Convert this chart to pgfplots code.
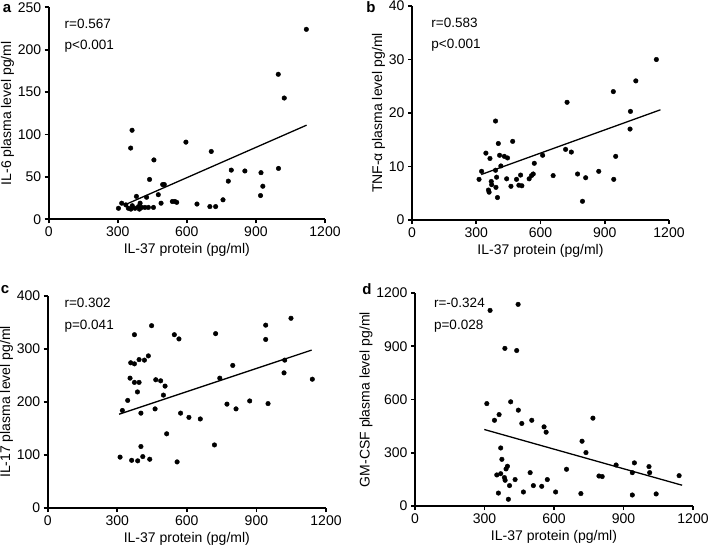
\documentclass[border=0pt]{standalone}
\usepackage{fontspec}
\setmainfont{Liberation Sans}
\usepackage{pgfplots}
\pgfplotsset{compat=1.18}
\pgfplotsset{
 panel/.style={
  scale only axis,
  anchor=south west,
  axis x line=bottom, axis y line=left,
  axis line style={-, line width=1.7pt},
  tick align=outside,
  major tick length=4pt,
  every tick/.style={line width=1.7pt, black},
  xmin=0, xmax=1200, xtick={0,300,600,900,1200},
  ymin=0,
  tick label style={font=\fontsize{14}{15}\selectfont},
  label style={font=\fontsize{14}{16}\selectfont},
  ylabel shift=-3pt,
  xlabel={IL-37 protein (pg/ml)},
  /pgf/number format/assume math mode=true,
  /pgf/number format/set thousands separator={},
  clip=false,
  scaled ticks=false,
  enlargelimits=false,
 },
 dots/.style={only marks, mark=*, mark size=2.3pt, black},
 regline/.style={black, line width=1.3pt, no marks},
}
\tikzset{ann/.style={anchor=west, font=\fontsize{13.5}{15}\selectfont}}
\begin{document}
\begin{tikzpicture}[x=1pt,y=1pt]
\path[use as bounding box] (0,0) rectangle (708,547);
% panel a
\begin{axis}[panel, at={(48.7pt,327.7pt)}, width=276.3pt, height=212pt,
  ymax=250, ytick={0,50,100,150,200,250}, ylabel={IL-6 plasma level pg/ml}]
\addplot[dots] table {
x y
1119 224
997 171
1023 143
362 105
356 84
596 91
706 80
457 70
793 58
852 57
922 55
998 60
780 45
438 47
495 41
502 41
930 39
920 28
476 29
381 27
425 26
757 23
537 21
548 21
556 20
488 19
644 18
317 19
700 15
725 15
303 13
346 13
357 12
375 13
390 15
394 12
404 14
418 14
433 14
455 14
335 17
363 16
397 19
};
\addplot[regline] coordinates {(330,17) (1120,111)};
\node[ann] at (rel axis cs:0.045,0.921) {r=0.567};
\node[ann] at (rel axis cs:0.045,0.816) {p<0.001};
\end{axis}
% panel b
\begin{axis}[panel, at={(412pt,327pt)}, width=257pt, height=214pt,
  ymax=40, ytick={0,10,20,30,40}, ylabel={TNF-α plasma level pg/ml}]
\addplot[dots] table {
x y
1141 30
1045 26
940 24
724 22
1020 20.3
1018 17
951 11.9
717 13.2
744 12.7
610 12.1
571 10.6
659 8.3
773 8.6
811 7.9
872 9.1
942 7.6
796 3.5
390 18.5
403 14.3
470 14.7
345 12.5
364 11.5
409 12.1
431 11.9
446 11.6
415 10.1
325 9.1
390 9.3
313 7.6
370 7.2
372 6.6
395 8.0
357 5.6
360 5.2
392 6.1
399 4.2
442 7.7
462 6.3
488 7.6
499 6.5
513 6.4
507 8.4
547 7.7
558 8.3
566 8.6
};
\addplot[regline] coordinates {(323,8.5) (1160,20.6)};
\node[ann] at (rel axis cs:0.062,0.919) {r=0.583};
\node[ann] at (rel axis cs:0.062,0.816) {p<0.001};
\end{axis}
% panel c
\begin{axis}[panel, at={(47.7pt,39pt)}, width=278.3pt, height=212pt,
  ymax=400, ytick={0,100,200,300,400}, ylabel={IL-17 plasma level pg/ml}]
\addplot[dots] table {
x y
448 344
374 327
546 327
566 319
724 329
358 274
374 272
394 280
417 279
434 287
355 245
374 237
394 237
466 242
487 240
506 230
387 219
345 203
499 213
322 184
402 179
463 187
573 179
609 171
658 168
513 140
402 116
719 119
312 96
362 90
388 89
410 97
440 92
558 87
742 245
798 269
773 196
812 187
871 202
940 345
940 318
950 197
1049 358
1022 279
1019 255
1141 243
};
\addplot[regline] coordinates {(308,177) (1138,298)};
\node[ann] at (rel axis cs:0.048,0.967) {r=0.302};
\node[ann] at (rel axis cs:0.048,0.857) {p=0.041};
\end{axis}
% panel d
\begin{axis}[panel, at={(415pt,41pt)}, width=278pt, height=213pt,
  ymax=1200, ytick={0,300,600,900,1200}, ylabel={GM-CSF plasma level pg/ml}]
\addplot[dots] table {
x y
310 577
413 587
363 515
343 483
446 540
461 465
504 483
557 446
566 416
721 365
738 301
370 327
375 263
399 224
393 209
353 175
370 182
386 160
389 145
408 115
432 149
497 188
511 115
547 111
571 149
468 79
360 73
403 38
607 79
654 207
716 70
324 1102
445 1136
388 888
439 876
768 495
868 231
794 169
808 166
947 243
938 188
1010 222
1013 188
1140 171
938 62
1041 68
};
\addplot[regline] coordinates {(299,431) (1153,117)};
\node[ann] at (rel axis cs:0.056,0.956) {r=-0.324};
\node[ann] at (rel axis cs:0.056,0.846) {p=0.028};
\end{axis}
\node[font=\bfseries\fontsize{15}{16}\selectfont] at (7,538) {a};
\node[font=\bfseries\fontsize{15}{16}\selectfont] at (371,540) {b};
\node[font=\bfseries\fontsize{15}{16}\selectfont] at (5,257) {c};
\node[font=\bfseries\fontsize{15}{16}\selectfont] at (367,258) {d};
\end{tikzpicture}
\end{document}
